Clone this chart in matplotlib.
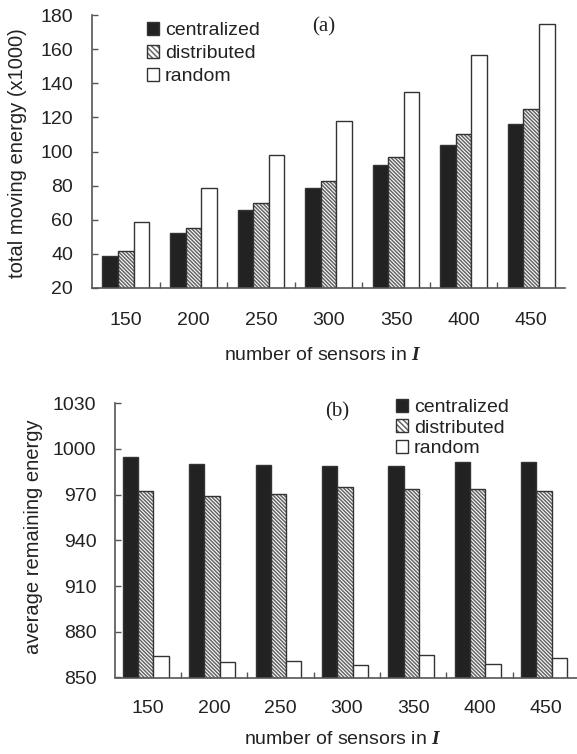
import numpy as np
import matplotlib.pyplot as plt
from matplotlib.patches import Patch

plt.rcParams['font.family'] = ['Liberation Sans', 'DejaVu Sans']
plt.rcParams['mathtext.fontset'] = 'custom'
plt.rcParams['mathtext.bfit'] = 'Liberation Serif:italic:bold'
plt.rcParams['hatch.linewidth'] = 1.1
plt.rcParams['text.color'] = '#222222'

# data
sensors = ['150', '200', '250', '300', '350', '400', '450']
methods = ['centralized', 'distributed', 'random']

moving_central = [38.9, 52.1, 65.5, 78.8, 92.0, 103.9, 116.3]
moving_distrib = [41.4, 55.4, 69.6, 82.5, 96.9, 110.3, 125.1]
moving_random = [58.5, 78.4, 97.9, 117.7, 134.6, 156.8, 174.7]

remain_central = [994.5, 990.4, 989.5, 988.8, 988.8, 991.2, 991.2]
remain_distrib = [972.6, 969.3, 970.2, 975.3, 973.7, 973.7, 972.6]
remain_random = [864.0, 859.9, 860.7, 858.1, 864.7, 859.0, 862.5]

dark = '#222222'
edge = '#333333'
hatchcol = '#666666'
axcol = '#555555'
hatch = '\\' * 9
w = 0.23


def bars(ax, c, d, r, shift=0.0):
    x = np.arange(len(sensors)) + shift
    ax.bar(x - w, c, w, color=dark, edgecolor=edge, linewidth=1)
    ax.bar(x, d, w, color='white', edgecolor=hatchcol, linewidth=0, hatch=hatch)
    ax.bar(x, d, w, color='none', edgecolor=edge, linewidth=1)
    ax.bar(x + w, r, w, color='white', edgecolor=edge, linewidth=1)


def style(ax, yticks, xpad, ypad):
    ax.set_xlim(-0.5, len(sensors) - 0.5)
    ax.set_ylim(yticks[0], yticks[-1])
    ax.set_yticks(yticks)
    ax.set_xticks(np.arange(len(sensors)))
    ax.set_xticklabels(sensors)
    ax.set_xticks(np.arange(len(sensors) - 1) + 0.5, minor=True)
    ax.tick_params(axis='x', which='major', length=0, pad=xpad, labelsize=14, labelcolor=dark)
    ax.tick_params(axis='x', which='minor', direction='in', length=4, width=1, color=axcol)
    ax.tick_params(axis='y', direction='in', length=4, width=1, color=axcol,
                   pad=ypad, labelsize=14, labelcolor=dark)
    for s in ['top', 'right']:
        ax.spines[s].set_visible(False)
    for s in ['left', 'bottom']:
        ax.spines[s].set_color(axcol)
        ax.spines[s].set_linewidth(1.2)


def legend(ax, fig, x, y, spacing):
    h = [Patch(facecolor=dark, edgecolor=edge, linewidth=1),
         (Patch(facecolor='white', edgecolor=hatchcol, linewidth=0, hatch='\\' * 6),
          Patch(facecolor='none', edgecolor=edge, linewidth=1)),
         Patch(facecolor='white', edgecolor=edge, linewidth=1)]
    ax.legend(h, methods, loc='upper left', bbox_to_anchor=(x / 577, 1 - y / 754),
              bbox_transform=fig.transFigure, frameon=False, borderpad=0, borderaxespad=0,
              handlelength=0.62, handleheight=0.62, handletextpad=0.3,
              labelspacing=spacing, fontsize=14)


fig = plt.figure(figsize=(5.77, 7.54), dpi=100)

ax1 = fig.add_axes([92 / 577, 1 - 288 / 754, 473 / 577, 273 / 754])
bars(ax1, moving_central, moving_distrib, moving_random)
style(ax1, np.arange(20, 181, 20), 17, 13.5)
legend(ax1, fig, 147, 22, 0.3)
fig.text(324 / 577, 1 - 27 / 754, '(a)', family='Liberation Serif', fontsize=15,
         ha='center', va='center')
fig.text(18 / 577, 1 - 153 / 754, 'total moving energy (x1000)', rotation=90,
         fontsize=14.5, ha='center', va='center')
fig.text(323 / 577, 1 - 355 / 754, r'number of sensors in $\mathbfit{I}$', fontsize=14,
         ha='center', va='center')

ax2 = fig.add_axes([114.5 / 577, 1 - 677.5 / 754, 464.8 / 577, 274.2 / 754])
bars(ax2, remain_central, remain_distrib, remain_random, shift=-0.03)
style(ax2, np.arange(850, 1031, 30), 16, 13)
legend(ax2, fig, 396, 399, 0.17)
fig.text(337 / 577, 1 - 412 / 754, '(b)', family='Liberation Serif', fontsize=15,
         ha='center', va='center')
fig.text(34 / 577, 1 - 537 / 754, 'average remaining energy', rotation=90,
         fontsize=14.5, ha='center', va='center')
fig.text(343 / 577, 1 - 740 / 754, r'number of sensors in $\mathbfit{I}$', fontsize=14,
         ha='center', va='center')

fig.savefig('out.png', dpi=100)
